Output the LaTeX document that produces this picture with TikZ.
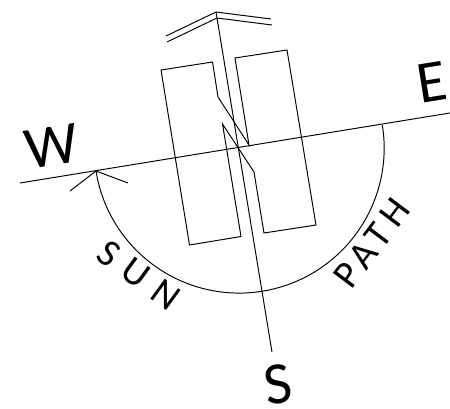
\documentclass[tikz,border=0pt]{standalone}
\usepackage{fontspec}
\setmainfont{Carlito}
\newfontfamily\sunfont[LetterSpace=8]{Carlito}
\newfontfamily\pathfont[LetterSpace=19]{Carlito}
\tikzset{
  compass/.style={font=\fontsize{34}{34}\selectfont,inner sep=0pt},
  sunlabel/.style={font=\sunfont\fontsize{22}{22}\selectfont,inner sep=0pt},
  pathlabel/.style={font=\pathfont\fontsize{22}{22}\selectfont,inner sep=0pt},
  sketch/.style={black,line width=0.55pt,line join=miter}
}
\begin{document}
\begin{tikzpicture}[x=1cm,y=1cm]
  \useasboundingbox (0,0) rectangle (9,8.16);
  \coordinate (westend) at (0.40,4.50);
  \coordinate (eastend) at (9.00,5.90);
  \coordinate (ridge) at (4.32,7.92);
  \coordinate (southend) at (5.44,1.12);
  \coordinate (suntip) at (1.92,4.74);
  \draw[sketch] (westend) -- (eastend);
  \draw[sketch] (ridge) -- (southend);
  \draw[sketch] (3.32,7.44) -- (ridge) -- (5.42,7.78);
  \draw[sketch] (3.34,7.32) -- (4.34,7.80) -- (5.44,7.66);
  \draw[sketch] (3.22,6.76) -- (4.25,6.92) -- (4.36,6.22) -- (4.98,5.26) -- (4.70,7.00) -- (5.74,7.16)
    -- (6.32,3.66) -- (5.28,3.50) -- (5.08,4.72) -- (4.45,5.68) -- (4.82,3.43) -- (3.79,3.26) -- cycle;
  \draw[sketch] (suntip) arc[start angle=189.1,end angle=369.1,radius=2.90];
  \draw[sketch] (1.40,4.34) -- (suntip) -- (2.56,4.50);
  \node[compass,rotate=9] (west) at (1.04,5.24) {W};
  \node[compass,rotate=9] (east) at (8.64,6.52) {E};
  \node[compass,rotate=9] (south) at (5.56,0.48) {S};
  \node[sunlabel,rotate=-36] (sun) at (2.78,2.66) {S U N};
  \node[pathlabel,rotate=53] (path) at (7.44,3.30) {PATH};
\end{tikzpicture}
\end{document}
